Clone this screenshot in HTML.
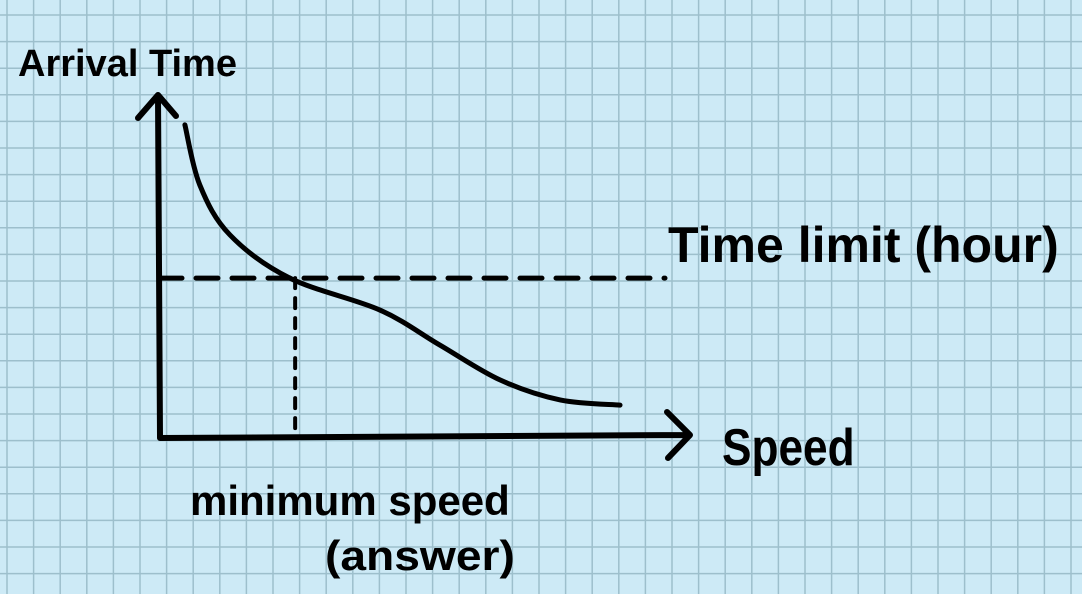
<!DOCTYPE html>
<html><head><meta charset="utf-8"><style>
html,body{margin:0;padding:0;}
body{width:1082px;height:594px;overflow:hidden;background:#cdeaf6;}
svg{display:block;}
text{font-family:"Liberation Sans",sans-serif;fill:#000;font-weight:bold;}
</style></head><body>
<svg id="chart" width="1082" height="594">
<g id="grid"></g>
<g id="marks"></g>
<text x="18" y="76" font-size="38">Arrival Time</text>
<text x="668" y="262" font-size="50">Time limit (hour)</text>
<text x="722" y="465" font-size="52" transform="translate(722,465) scale(0.85,1) translate(-722,-465)">Speed</text>
<text x="190" y="515" font-size="42">minimum speed</text>
<text x="325" y="570" font-size="42" transform="translate(325,570) scale(1.1,1) translate(-325,-570)">(answer)</text>
</svg>
<script>
const speeds=[0.47,0.75,1.32,2.45,4.15,5.28,6.42,7.55,8.68];
const times=[9.13,7.38,5.92,4.66,3.73,2.71,1.69,1.11,0.96];
const timeLimit=[4.66];
const minSpeed=[2.55];
const NS="http://www.w3.org/2000/svg";
const x0=160,y0=438,xs=53,ys=34.3;
function X(v){return x0+v*xs;}
function Y(t){return y0-t*ys;}
const grid=document.getElementById('grid');
for(let gx=7;gx<1082;gx+=26.6){const l=document.createElementNS(NS,'line');


l.setAttribute('x1',gx);l.setAttribute('x2',gx);l.setAttribute('y1',0);l.setAttribute('y2',594);l.setAttribute('stroke','#9dbfcc');l.setAttribute('stroke-width','1.5');grid.appendChild(l);}
for(let gy=15;gy<594;gy+=26.6){const l=document.createElementNS(NS,'line');


l.setAttribute('y1',gy);l.setAttribute('y2',gy);l.setAttribute('x1',0);l.setAttribute('x2',1082);l.setAttribute('stroke','#9dbfcc');l.setAttribute('stroke-width','1.5');grid.appendChild(l);}
const m=document.getElementById('marks');
function path(d,w,dash,name){const p=document.createElementNS(NS,'path');


p.setAttribute('d',d);p.setAttribute('fill','none');p.setAttribute('stroke','#000');p.setAttribute('stroke-width',w);p.setAttribute('stroke-linecap','round');p.setAttribute('stroke-linejoin','round');if(dash)p.setAttribute('stroke-dasharray',dash);m.appendChild(p);}
path('M160 437 L158 95 M138 118 L158 95 L176 116',6,null,'y-axis');
path('M160 438 L690 435 M667 412 L690 435 L668 458',6,null,'x-axis');
path('M'+X(0)+' '+Y(timeLimit[0])+' L'+(X(0)+505)+' '+Y(timeLimit[0]),5,'22,14','time-limit-line');
path('M'+X(minSpeed[0])+' '+Y(timeLimit[0])+' L'+X(minSpeed[0])+' 430',4,'10,10','minimum-speed-line');
let pts=speeds.map((s,i)=>[X(s),Y(times[i])]);
let d='M'+pts[0][0]+' '+pts[0][1];
for(let i=0;i<pts.length-1;i++){const p0=pts[Math.max(0,i-1)],p1=pts[i],p2=pts[i+1],p3=pts[Math.min(pts.length-1,i+2)];
d+=' C'+(p1[0]+(p2[0]-p0[0])/6)+' '+(p1[1]+(p2[1]-p0[1])/6)+' '+(p2[0]-(p3[0]-p1[0])/6)+' '+(p2[1]-(p3[1]-p1[1])/6)+' '+p2[0]+' '+p2[1];}
path(d,5,null,'arrival-time-curve');
</script>
</body></html>
